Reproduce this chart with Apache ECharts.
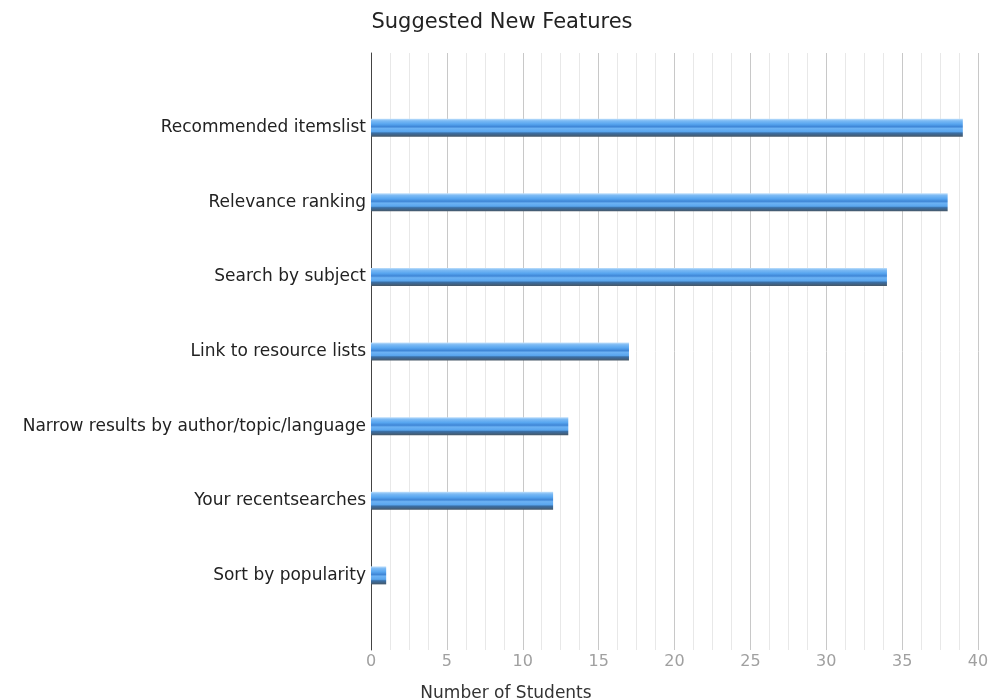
<!DOCTYPE html>
<html>
<head>
<meta charset="utf-8">
<script src="https://cdn.jsdelivr.net/npm/echarts@6/dist/echarts.min.js"></script>
<style>html,body{margin:0;padding:0;background:#fff;}#chart{width:993px;height:700px;}</style>
</head>
<body>
<div id="chart"></div>
<script>
const categories = ['', 'Recommended itemslist', 'Relevance ranking', 'Search by subject', 'Link to resource lists', 'Narrow results by author/topic/language', 'Your recentsearches', 'Sort by popularity', ''];
const values = [null, 39, 38, 34, 17, 13, 12, 1, null];
const xTicks = [0, 5, 10, 15, 20, 25, 30, 35, 40];

const chart = echarts.init(document.getElementById('chart'));
const font = '"DejaVu Sans", Verdana, sans-serif';
chart.setOption({
  backgroundColor: '#fff',
  animation: false,
  title: [
    { text: 'Suggested New Features', left: 497, top: 7, textAlign: 'center',
      textStyle: { fontFamily: font, fontSize: 21, fontWeight: 'normal', color: '#222' } },
    { text: 'Number of Students', left: 501, top: 680, textAlign: 'center',
      textStyle: { fontFamily: font, fontSize: 17, fontWeight: 'normal', color: '#333' } }
  ],
  grid: { left: 371, right: 15, top: 53, bottom: 50, containLabel: false },
  xAxis: {
    type: 'value', min: 0, max: 40, interval: 5,
    axisLine: { show: false }, axisTick: { show: false },
    axisLabel: { color: '#a0a0a0', fontFamily: font, fontSize: 16, margin: 4,
      formatter: v => xTicks.includes(v) ? String(v) : '' },
    splitLine: { show: true, lineStyle: { color: '#c8c8c8', width: 1 } },
    minorTick: { show: false, splitNumber: 4 },
    minorSplitLine: { show: true, lineStyle: { color: '#e8e8e8', width: 1 } }
  },
  yAxis: {
    type: 'category', data: categories, inverse: true, boundaryGap: false,
    axisLine: { show: true, lineStyle: { color: '#444', width: 1 } },
    axisTick: { show: false },
    splitLine: { show: false },
    axisLabel: { color: '#222', fontFamily: font, fontSize: 17, margin: 5 }
  },
  series: [{
    type: 'bar', data: values, barWidth: 18,
    itemStyle: {
      color: new echarts.graphic.LinearGradient(0, 0, 0, 1, [
        { offset: 0, color: '#c4e2fc' },
        { offset: 0.12, color: '#7cbaf4' },
        { offset: 0.3, color: '#58a6f0' },
        { offset: 0.45, color: '#3f86d6' },
        { offset: 0.55, color: '#6cb2f4' },
        { offset: 0.72, color: '#5aa6ee' },
        { offset: 0.8, color: '#3a6fa6' },
        { offset: 1, color: '#465868' }
      ])
    }
  }]
});
</script>
</body>
</html>
